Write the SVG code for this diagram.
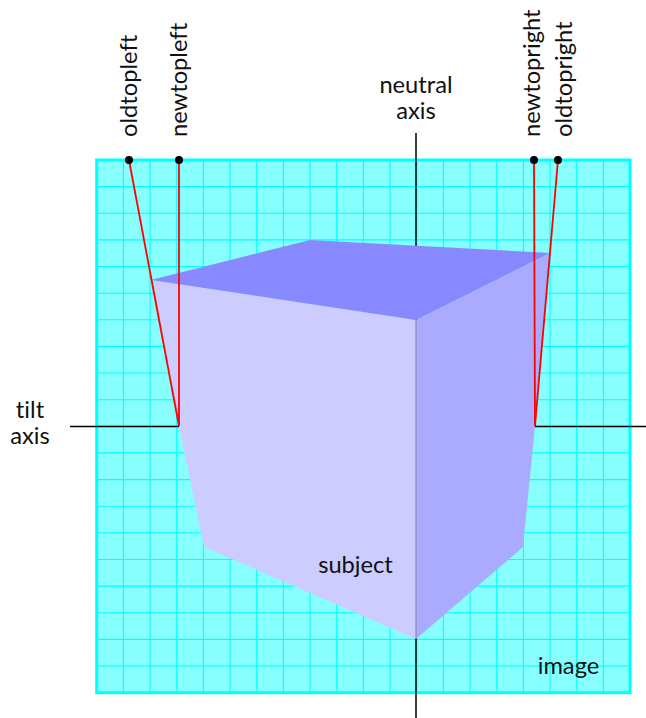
<svg xmlns="http://www.w3.org/2000/svg" width="646" height="718" viewBox="0 0 646 718">
<style>
text{font-family:Lato,"Open Sans","Liberation Sans",sans-serif;font-size:23.7px;fill:#111;font-variant-ligatures:none}
.m{text-anchor:middle}
.g{stroke:#0ff;stroke-width:1.1;fill:none}
.ax{stroke:#000;stroke-width:1.5;fill:none}
.r{stroke:#f00;stroke-width:1.8;fill:none}
</style>
<g id="image">
<rect x="96.7" y="160" width="533.3" height="532.7" fill="#8ff"/>
<path class="g" d="M123.4 160V692.7M150 160V692.7M176.7 160V692.7M203.4 160V692.7M230 160V692.7M256.7 160V692.7M283.4 160V692.7M310 160V692.7M336.7 160V692.7M363.4 160V692.7M390 160V692.7M416.7 160V692.7M443.4 160V692.7M470 160V692.7M496.7 160V692.7M523.4 160V692.7M550 160V692.7M576.7 160V692.7M603.4 160V692.7"/>
<path class="g" d="M96.7 186.6H630M96.7 213.3H630M96.7 239.9H630M96.7 266.5H630M96.7 293.2H630M96.7 319.8H630M96.7 346.4H630M96.7 373H630M96.7 399.7H630M96.7 426.3H630M96.7 452.9H630M96.7 479.6H630M96.7 506.2H630M96.7 532.8H630M96.7 559.5H630M96.7 586.1H630M96.7 612.7H630M96.7 639.4H630M96.7 666H630"/>
<rect x="96.7" y="160" width="533.3" height="532.7" fill="none" stroke="#0ff" stroke-width="3"/>
<text x="568.500" y="674" class="m">image</text>
</g>
<g id="connectors">
<path class="ax" d="M416 133V718M70 426.500H179M535 426.500H646"/>
</g>
<g id="subject">
<polygon points="151,280 416,320 416,639 204,547 179,426" fill="#ccf"/>
<polygon points="416,320 550,253 535,426 523,547 416,639" fill="#aaf"/>
<polygon points="151,280 310,240 550,253 416,320" fill="#88f"/>
<line x1="416" y1="320" x2="416" y2="639" stroke="#88a" stroke-width="1.2"/>
<text x="355.500" y="573" class="m">subject</text>
</g>
<g id="oldtopleft">
<line class="r" x1="129" y1="160" x2="179" y2="426"/>
<circle cx="129" cy="160" r="4"/>
<text transform="translate(137 137) rotate(-90)">oldtopleft</text>
</g>
<g id="newtopleft">
<line class="r" x1="179" y1="160" x2="179" y2="426"/>
<circle cx="179" cy="160" r="4"/>
<text transform="translate(187 137) rotate(-90)">newtopleft</text>
</g>
<g id="newtopright">
<line class="r" x1="534" y1="160" x2="535" y2="426"/>
<circle cx="534" cy="160" r="4"/>
<text transform="translate(540 137) rotate(-90)">newtopright</text>
</g>
<g id="oldtopright">
<line class="r" x1="558" y1="160" x2="535" y2="426"/>
<circle cx="558" cy="160" r="4"/>
<text transform="translate(572 137) rotate(-90)">oldtopright</text>
</g>
<g id="neutral-axis">
<text class="m"><tspan x="416" y="93">neutral</tspan><tspan x="416" y="119">axis</tspan></text>
</g>
<g id="tilt-axis">
<text class="m"><tspan x="30" y="418">tilt</tspan><tspan x="30" y="444">axis</tspan></text>
</g>
</svg>
